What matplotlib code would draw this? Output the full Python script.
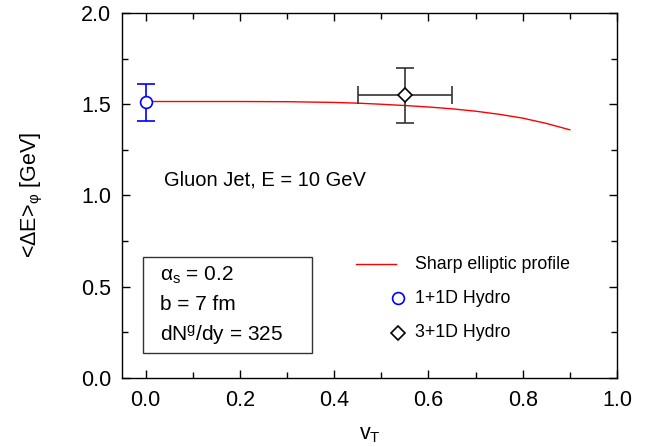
import numpy as np
import matplotlib
matplotlib.use("Agg")
import matplotlib.pyplot as plt
from matplotlib.lines import Line2D
from matplotlib.patches import Rectangle

plt.rcParams['font.family'] = ['Liberation Sans', 'DejaVu Sans']
plt.rcParams['mathtext.fontset'] = 'custom'
plt.rcParams['mathtext.rm'] = 'Liberation Sans'
plt.rcParams['mathtext.it'] = 'Liberation Sans:italic'

# sharp elliptic profile, energy loss vs transverse flow
vt_curve = [0.0, 0.1, 0.2, 0.3, 0.4, 0.45, 0.5, 0.55, 0.6, 0.65, 0.7, 0.75, 0.8, 0.85, 0.9]
de_curve = [1.515, 1.515, 1.515, 1.514, 1.510, 1.506, 1.500, 1.493, 1.485, 1.475,
            1.462, 1.445, 1.424, 1.395, 1.360]

# 1+1D hydro point
vt_1d = [0.0]
de_1d = [1.51]
de_1d_err = [0.10]

# 3+1D hydro point
vt_3d = [0.55]
de_3d = [1.55]
vt_3d_err = [0.10]
de_3d_err = [0.15]

legend_labels = ['Sharp elliptic profile', '1+1D Hydro', '3+1D Hydro']
params_text = [r'α$_{\rm s}$ = 0.2', 'b = 7 fm', r'dN$^{\rm g}$/dy = 325']

fig = plt.figure(figsize=(6.47, 4.47), dpi=100)
ax = fig.add_axes([0.1886, 0.1544, 0.765, 0.8165])

ax.plot(vt_curve, de_curve, color='red', lw=1.0, zorder=2)
ax.errorbar(vt_1d, de_1d, yerr=de_1d_err, fmt='o', color='blue', ecolor='blue',
            mfc='white', mec='blue', ms=8.5, mew=1.2, elinewidth=1.2,
            capsize=6.5, capthick=1.2, zorder=3)
ax.errorbar(vt_3d, de_3d, xerr=vt_3d_err, yerr=de_3d_err, fmt='D', color='black',
            ecolor='#333333', mfc='white', mec='black', ms=6.8, mew=1.2,
            elinewidth=1.2, capsize=6.5, capthick=1.2, zorder=3)

ax.set_xlim(-0.05, 1.0)
ax.set_ylim(0.0, 2.0)
ax.set_xticks(np.arange(0, 1.01, 0.2))
ax.set_xticks(np.arange(0.1, 1.0, 0.2), minor=True)
ax.set_yticks(np.arange(0, 2.01, 0.5))
ax.set_yticks(np.arange(0.25, 2.0, 0.5), minor=True)
ax.xaxis.set_major_formatter(matplotlib.ticker.FormatStrFormatter('%.1f'))
ax.yaxis.set_major_formatter(matplotlib.ticker.FormatStrFormatter('%.1f'))
ax.tick_params(which='both', direction='in', top=True, right=True, labelsize=15.5, width=1.0)
ax.tick_params(which='major', length=6)
ax.tick_params(axis='x', which='major', pad=9)
ax.tick_params(axis='y', which='major', pad=8)
ax.tick_params(which='minor', length=4)
for s in ax.spines.values():
    s.set_linewidth(1.0)

ax.set_xlabel(r'v$_{\rm T}$', fontsize=15.5, labelpad=9)
ax.set_ylabel(r'<ΔE>$_{\rm φ}$ [GeV]', fontsize=15.5, labelpad=26)

ax.text(0.04, 1.085, 'Gluon Jet, E = 10 GeV', fontsize=14.5, va='center', ha='left')

# parameter box
ax.add_patch(Rectangle((-0.005, 0.135), 0.357, 0.526, fill=False, ec='#333333', lw=1.0, zorder=4))
for y, txt in zip([0.56, 0.40, 0.235], params_text):
    ax.text(0.03, y, txt, fontsize=15, va='center', ha='left')

# legend drawn in axes fraction coordinates
t = ax.transAxes
leg_y = [0.312, 0.219, 0.124]
ax.add_line(Line2D([0.473, 0.554], [leg_y[0], leg_y[0]], transform=t, color='red', lw=1.0))
ax.add_line(Line2D([0.558], [leg_y[1]], transform=t, marker='o', color='blue', mfc='white',
                   ms=8.5, mew=1.2, ls='none'))
ax.add_line(Line2D([0.558], [leg_y[2]], transform=t, marker='D', color='black', mfc='white',
                   ms=6.8, mew=1.2, ls='none'))
for y, txt in zip(leg_y, legend_labels):
    ax.text(0.592, y, txt, transform=t, fontsize=12.8, va='center', ha='left')

fig.savefig('out.png', dpi=100)
